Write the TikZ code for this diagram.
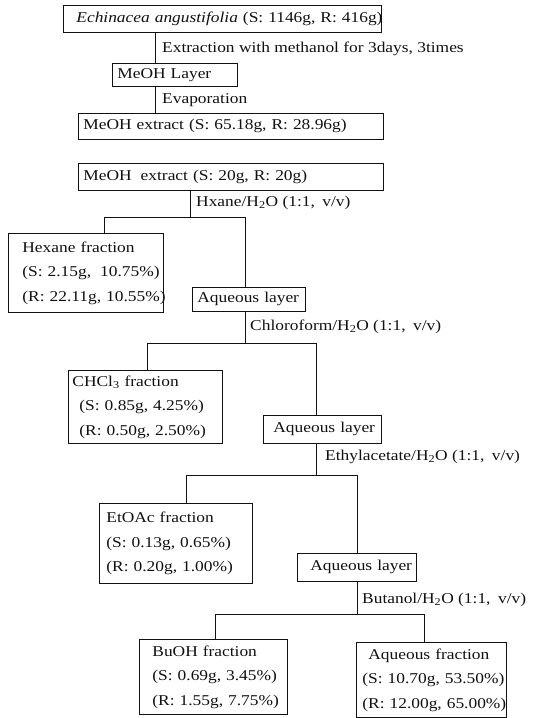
\documentclass[tikz,border=0pt]{standalone}
\usepackage{fontspec}
\setmainfont{Liberation Serif}[FakeStretch=1.16]
\usetikzlibrary{positioning,calc}
\definecolor{ink}{HTML}{111111}
\newcommand{\chartfont}{\fontsize{15}{24.5}\selectfont}
\tikzset{
  every picture/.style={line cap=butt, line join=miter},
  every node/.style={font=\chartfont, text=ink},
  % box: width, height, left padding (all in pt)
  stage/.style n args={3}{
    draw=ink,
    line width=0.8pt,
    anchor=north west,
    align=left,
    inner xsep=2pt,
    inner ysep=0pt,
    text width={#1pt-4pt},
    minimum height=#2pt,
    execute at begin node={\leftskip=\dimexpr#3pt-2pt\relax
      \rightskip=-\dimexpr#3pt-2pt\relax plus 1fil}
  },
  link/.style={draw=ink, line width=0.8pt},
  solvent/.style={anchor=west, inner sep=0pt}
}

\begin{document}
\begin{tikzpicture}[x=1pt, y=-1pt]
  \useasboundingbox (0,0) rectangle (537,718);

  \node[stage={318}{27}{13}] (plant) at (63,5) {\textit{Echinacea angustifolia} (S: 1146g, R: 416g)};
  \node[stage={125}{23}{5}] (layer) at (112,63) {MeOH Layer};
  \node[stage={305}{26}{5}] (crude) at (78,113) {MeOH extract (S: 65.18g, R: 28.96g)};

  \coordinate (c0) at (155,0);
  \draw[link] (plant.south -| c0) -- (layer.north -| c0);
  \draw[link] (layer.south -| c0) -- (crude.north -| c0);
  \node[solvent] (extr) at (162,49) {Extraction with methanol for 3days, 3times};
  \node[solvent] (evap) at (162,100) {Evaporation};

  % Partition
  \node[stage={305}{27}{5}] (meoh) at (78,163) {MeOH\hspace{0.6em}extract (S: 20g, R: 20g)};
  \node[stage={155}{79}{14}] (hex) at (8,233) {Hexane fraction\\(S: 2.15g,\hspace{0.6em}10.75\%)\\(R: 22.11g, 10.55\%)};
  \node[stage={113}{24}{5}] (aq1) at (192,287) {Aqueous layer};
  \node[stage={154}{73}{4}] (chcl) at (68,370) {CHCl\textsubscript{3} fraction\\\hspace*{7pt}(S: 0.85g, 4.25\%)\\\hspace*{7pt}(R: 0.50g, 2.50\%)};
  \node[stage={118}{28}{10}] (aq2) at (263,415) {Aqueous layer};
  \node[stage={153}{80}{7}] (etoac) at (99,503) {EtOAc fraction\\(S: 0.13g, 0.65\%)\\(R: 0.20g, 1.00\%)};
  \node[stage={119}{28}{13}] (aq3) at (297,553) {Aqueous layer};
  \node[stage={148}{75}{13}] (buoh) at (139,639) {BuOH fraction\\(S: 0.69g, 3.45\%)\\(R: 1.55g, 7.75\%)};
  \node[stage={150}{75}{6}] (aqf) at (356,642) {\hspace*{6pt}Aqueous fraction\\(S: 10.70g, 53.50\%)\\(R: 12.00g, 65.00\%)};

  \node[solvent] (hxane) at (196,203) {Hxane/H\textsubscript{2}O (1:1,\hspace{0.5em}v/v)};
  \node[solvent] (chloro) at (250,327) {Chloroform/H\textsubscript{2}O (1:1,\hspace{0.5em}v/v)};
  \node[solvent] (ethyl) at (325,457) {Ethylacetate/H\textsubscript{2}O (1:1,\hspace{0.5em}v/v)};
  \node[solvent] (butanol) at (362,600) {Butanol/H\textsubscript{2}O (1:1,\hspace{0.5em}v/v)};

  \coordinate (s1) at (190,217);
  \coordinate (s1l) at (104,217);
  \coordinate (s1r) at (245,217);
  \draw[link] (meoh.south -| s1) -- (s1);
  \draw[link] (hex.north -| s1l) |- (s1r) -- (aq1.north -| s1r);

  \coordinate (s2) at (245,343);
  \coordinate (s2l) at (147,343);
  \coordinate (s2r) at (316,343);
  \draw[link] (aq1.south -| s2) -- (s2);
  \draw[link] (chcl.north -| s2l) |- (s2r) -- (aq2.north -| s2r);

  \coordinate (s3) at (316,475);
  \coordinate (s3l) at (186,475);
  \coordinate (s3r) at (357,475);
  \draw[link] (aq2.south -| s3) -- (s3);
  \draw[link] (etoac.north -| s3l) |- (s3r) -- (aq3.north -| s3r);

  \coordinate (s4) at (357,614);
  \coordinate (s4l) at (215,614);
  \coordinate (s4r) at (424,614);
  \draw[link] (aq3.south -| s4) -- (s4);
  \draw[link] (buoh.north -| s4l) |- (s4r) -- (aqf.north -| s4r);
\end{tikzpicture}
\end{document}
